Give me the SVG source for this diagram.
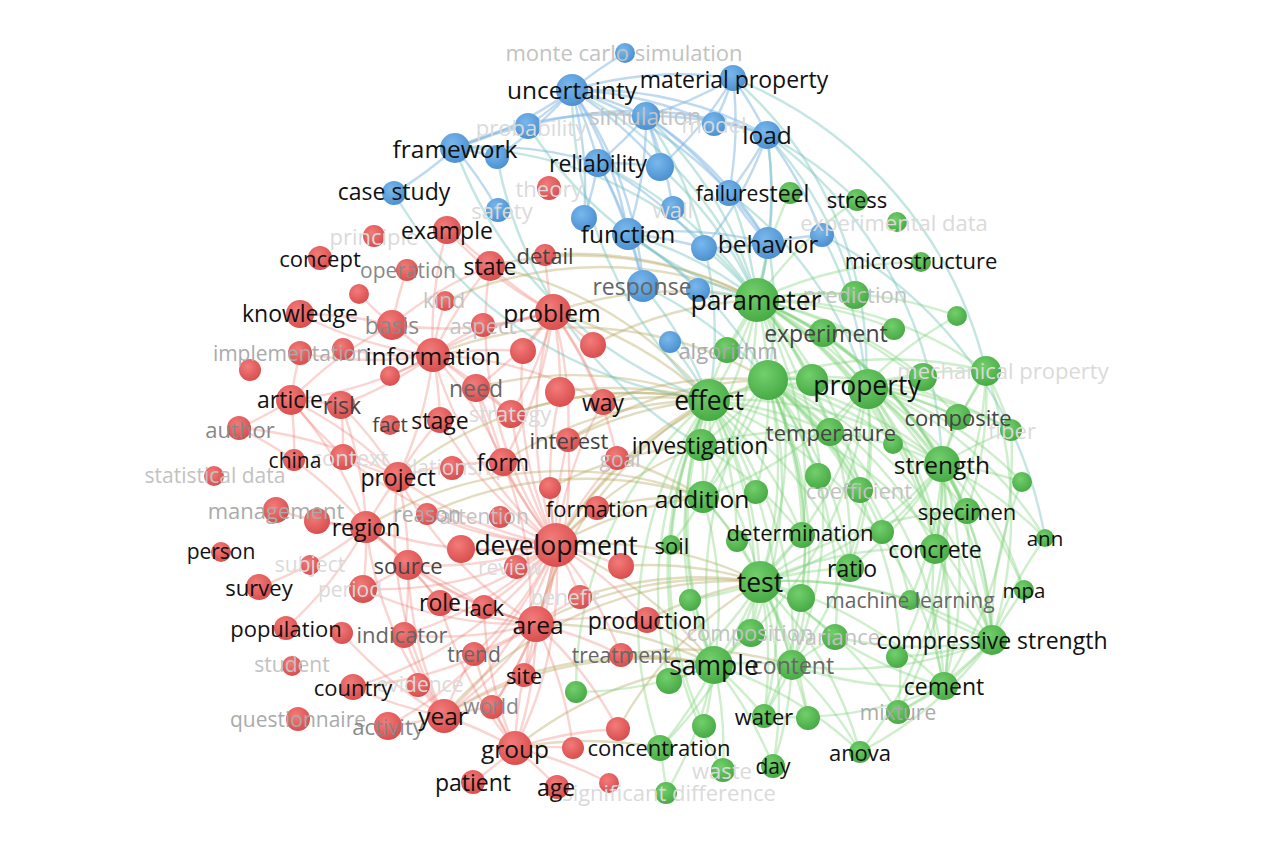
<svg xmlns="http://www.w3.org/2000/svg" width="1282" height="843" viewBox="0 0 1282 843">
<defs>
<radialGradient id="gr" cx="0.4" cy="0.35" r="0.7"><stop offset="0" stop-color="#f27c7a"/><stop offset="1" stop-color="#d84b4b"/></radialGradient>
<radialGradient id="gg" cx="0.4" cy="0.35" r="0.7"><stop offset="0" stop-color="#72cf6c"/><stop offset="1" stop-color="#45a843"/></radialGradient>
<radialGradient id="gb" cx="0.4" cy="0.35" r="0.7"><stop offset="0" stop-color="#79b8ec"/><stop offset="1" stop-color="#4a8ed0"/></radialGradient>
<style>
#connectors path{fill:none;stroke-width:2.4;stroke-linecap:round}
.r path{stroke:#ec7a70;stroke-opacity:.32}
.g path{stroke:#7fd27a;stroke-opacity:.38}
.b path{stroke:#7fb6e2;stroke-opacity:.5}
.t path{stroke:#6fc4bb;stroke-opacity:.42}
.o path{stroke:#b3a55c;stroke-opacity:.38}
.nr{fill:url(#gr)}
.ng{fill:url(#gg)}
.nb{fill:url(#gb)}
text{font-family:"Open Sans","Noto Sans","DejaVu Sans",sans-serif;text-anchor:middle;dominant-baseline:central}
.s20{font-size:20.5px}.s21{font-size:21px}.s22{font-size:22px}.s23{font-size:23px}.s24{font-size:24.5px}.s26{font-size:26.5px}
.k{fill:#111}.c1{fill:#444}.c2{fill:#666}.c3{fill:#888}.c4{fill:#aaa}.c5{fill:#c2c2c2}.c6{fill:#dadada}
</style>
</defs>
<rect width="1282" height="843" fill="#fff"/>
<g id="connectors">
<g class="r">
<path d="M556 545A380 380 0 0 1 536 624"/><path d="M556 545A380 380 0 0 1 366 527"/><path d="M556 545A380 380 0 0 1 408 565"/><path d="M556 545A380 380 0 0 1 398 477"/><path d="M556 545A380 380 0 0 1 503 462"/><path d="M556 545A380 380 0 0 1 433 355"/><path d="M556 545A380 380 0 0 1 476 388"/><path d="M556 545A380 380 0 0 1 553 312"/><path d="M556 545A380 380 0 0 1 444 716"/><path d="M556 545A380 380 0 0 1 515 748"/><path d="M556 545A380 380 0 0 1 484 607"/><path d="M556 545A380 380 0 0 1 440 603"/><path d="M556 545A380 380 0 0 1 461 549"/><path d="M556 545A380 380 0 0 1 516 567"/><path d="M556 545A380 380 0 0 1 597 508"/><path d="M556 545A380 380 0 0 1 550 488"/><path d="M556 545A380 380 0 0 1 500 517"/><path d="M556 545A380 380 0 0 1 427 514"/><path d="M556 545A380 380 0 0 1 580 597"/><path d="M556 545A380 380 0 0 1 647 620"/><path d="M556 545A380 380 0 0 1 621 566"/><path d="M556 545A380 380 0 0 1 568 440"/><path d="M556 545A380 380 0 0 1 603 402"/><path d="M556 545A380 380 0 0 1 440 420"/><path d="M556 545A380 380 0 0 1 511 414"/><path d="M556 545A380 380 0 0 1 524 675"/><path d="M556 545A380 380 0 0 1 474 654"/><path d="M556 545A380 380 0 0 1 404 635"/><path d="M556 545A380 380 0 0 1 363 589"/><path d="M556 545A380 380 0 0 1 353 687"/><path d="M556 545A380 380 0 0 1 621 655"/><path d="M556 545A380 380 0 0 1 560 392"/><path d="M556 545A380 380 0 0 1 523 351"/><path d="M556 545A380 380 0 0 1 617 458"/><path d="M556 545A380 380 0 0 1 490 266"/><path d="M556 545A380 380 0 0 1 291 400"/><path d="M556 545A380 380 0 0 1 388 726"/><path d="M556 545A380 380 0 0 1 492 707"/>
<path d="M536 624A380 380 0 0 1 444 716"/><path d="M536 624A380 380 0 0 1 515 748"/><path d="M536 624A380 380 0 0 1 524 675"/><path d="M536 624A380 380 0 0 1 484 607"/><path d="M536 624A380 380 0 0 1 440 603"/><path d="M536 624A380 380 0 0 1 474 654"/><path d="M536 624A380 380 0 0 1 492 707"/><path d="M536 624A380 380 0 0 1 647 620"/><path d="M536 624A380 380 0 0 1 621 655"/><path d="M536 624A380 380 0 0 1 404 635"/><path d="M536 624A380 380 0 0 1 408 565"/><path d="M536 624A380 380 0 0 1 573 748"/><path d="M536 624A380 380 0 0 1 363 589"/><path d="M536 624A380 380 0 0 1 366 527"/><path d="M536 624A380 380 0 0 1 618 729"/><path d="M536 624A380 380 0 0 1 353 687"/><path d="M536 624A380 380 0 0 1 580 597"/><path d="M536 624A380 380 0 0 1 398 477"/>
<path d="M444 716A380 380 0 0 1 515 748"/><path d="M444 716A380 380 0 0 1 388 726"/><path d="M444 716A380 380 0 0 1 353 687"/><path d="M444 716A380 380 0 0 1 492 707"/><path d="M444 716A380 380 0 0 1 418 685"/><path d="M444 716A380 380 0 0 1 474 654"/><path d="M444 716A380 380 0 0 1 524 675"/><path d="M444 716A380 380 0 0 1 404 635"/><path d="M444 716A380 380 0 0 1 342 633"/><path d="M444 716A380 380 0 0 1 408 565"/><path d="M444 716A380 380 0 0 1 366 527"/><path d="M444 716A380 380 0 0 1 398 477"/>
<path d="M515 748A380 380 0 0 1 473 782"/><path d="M515 748A380 380 0 0 1 557 787"/><path d="M515 748A380 380 0 0 1 573 748"/><path d="M515 748A380 380 0 0 1 524 675"/><path d="M515 748A380 380 0 0 1 492 707"/><path d="M515 748A380 380 0 0 1 618 729"/><path d="M515 748A380 380 0 0 1 609 783"/><path d="M515 748A380 380 0 0 1 474 654"/><path d="M515 748A380 380 0 0 1 484 607"/><path d="M515 748A380 380 0 0 1 440 603"/>
<path d="M433 355A380 380 0 0 1 392 325"/><path d="M433 355A380 380 0 0 1 343 349"/><path d="M433 355A380 380 0 0 1 300 353"/><path d="M433 355A380 380 0 0 1 291 400"/><path d="M433 355A380 380 0 0 1 476 388"/><path d="M433 355A380 380 0 0 1 440 420"/><path d="M433 355A380 380 0 0 1 553 312"/><path d="M433 355A380 380 0 0 1 490 266"/><path d="M433 355A380 380 0 0 1 445 301"/><path d="M433 355A380 380 0 0 1 483 325"/><path d="M433 355A380 380 0 0 1 511 414"/><path d="M433 355A380 380 0 0 1 398 477"/><path d="M433 355A380 380 0 0 1 390 376"/><path d="M433 355A380 380 0 0 1 300 314"/><path d="M433 355A380 380 0 0 1 341 405"/><path d="M433 355A380 380 0 0 1 523 351"/><path d="M433 355A380 380 0 0 1 603 402"/><path d="M433 355A380 380 0 0 1 503 462"/><path d="M433 355A380 380 0 0 1 447 230"/>
<path d="M553 312A380 380 0 0 1 490 266"/><path d="M553 312A380 380 0 0 1 483 325"/><path d="M553 312A380 380 0 0 1 603 402"/><path d="M553 312A380 380 0 0 1 593 345"/><path d="M553 312A380 380 0 0 1 523 351"/><path d="M553 312A380 380 0 0 1 476 388"/><path d="M553 312A380 380 0 0 1 511 414"/><path d="M553 312A380 380 0 0 1 545 255"/><path d="M553 312A380 380 0 0 1 560 392"/><path d="M553 312A380 380 0 0 1 447 230"/><path d="M553 312A380 380 0 0 1 568 440"/><path d="M553 312A380 380 0 0 1 503 462"/><path d="M553 312A380 380 0 0 1 392 325"/><path d="M553 312A380 380 0 0 1 617 458"/>
<path d="M291 400A380 380 0 0 1 239 428"/><path d="M291 400A380 380 0 0 1 300 353"/><path d="M291 400A380 380 0 0 1 341 405"/><path d="M291 400A380 380 0 0 1 366 527"/><path d="M291 400A380 380 0 0 1 294 460"/><path d="M291 400A380 380 0 0 1 398 477"/><path d="M291 400A380 380 0 0 1 392 325"/>
<path d="M366 527A380 380 0 0 1 317 521"/><path d="M366 527A380 380 0 0 1 276 510"/><path d="M366 527A380 380 0 0 1 408 565"/><path d="M366 527A380 380 0 0 1 398 477"/><path d="M366 527A380 380 0 0 1 363 589"/><path d="M366 527A380 380 0 0 1 259 587"/><path d="M366 527A380 380 0 0 1 286 628"/><path d="M366 527A380 380 0 0 1 440 603"/><path d="M239 428A380 380 0 0 1 366 527"/><path d="M239 428A380 380 0 0 1 398 477"/>
<path d="M341 405A380 380 0 0 1 343 457"/><path d="M341 405A380 380 0 0 1 398 477"/><path d="M341 405A380 380 0 0 1 366 527"/><path d="M300 314A380 380 0 0 1 392 325"/><path d="M392 325A380 380 0 0 1 490 266"/><path d="M392 325A380 380 0 0 1 359 294"/><path d="M392 325A380 380 0 0 1 407 270"/><path d="M398 477A380 380 0 0 1 440 420"/><path d="M398 477A380 380 0 0 1 503 462"/><path d="M398 477A380 380 0 0 1 408 565"/><path d="M398 477A380 380 0 0 1 343 457"/><path d="M447 230A380 380 0 0 1 490 266"/><path d="M408 565A380 380 0 0 1 440 603"/><path d="M408 565A380 380 0 0 1 484 607"/><path d="M408 565A380 380 0 0 1 363 589"/><path d="M408 565A380 380 0 0 1 404 635"/><path d="M476 388A380 380 0 0 1 503 462"/><path d="M476 388A380 380 0 0 1 511 414"/><path d="M503 462A380 380 0 0 1 524 675"/><path d="M568 440A380 380 0 0 1 536 624"/>
</g>
<g class="o">
<path d="M553 312A380 380 0 0 1 757 300"/><path d="M553 312A380 380 0 0 1 709 400"/><path d="M490 266A380 380 0 0 1 757 300"/><path d="M545 255A380 380 0 0 1 757 300"/><path d="M603 402A380 380 0 0 1 709 400"/><path d="M603 402A380 380 0 0 1 768 380"/><path d="M568 440A380 380 0 0 1 709 400"/><path d="M617 458A380 380 0 0 1 703 497"/><path d="M556 545A380 380 0 0 1 760 582"/><path d="M556 545A380 380 0 0 1 709 400"/><path d="M556 545A380 380 0 0 1 703 497"/><path d="M556 545A380 380 0 0 1 701 445"/><path d="M556 545A380 380 0 0 1 714 665"/><path d="M536 624A380 380 0 0 1 760 582"/><path d="M536 624A380 380 0 0 1 714 665"/><path d="M647 620A380 380 0 0 1 760 582"/><path d="M647 620A380 380 0 0 1 714 665"/><path d="M621 655A380 380 0 0 1 714 665"/><path d="M621 655A380 380 0 0 1 792 665"/><path d="M515 748A380 380 0 0 1 714 665"/><path d="M515 748A380 380 0 0 1 660 748"/><path d="M618 729A380 380 0 0 1 760 582"/><path d="M524 675A380 380 0 0 1 714 665"/><path d="M597 508A380 380 0 0 1 703 497"/><path d="M593 345A380 380 0 0 1 757 300"/><path d="M433 355A380 380 0 0 1 768 380"/><path d="M476 388A380 380 0 0 1 709 400"/><path d="M511 414A380 380 0 0 1 709 400"/><path d="M398 477A380 380 0 0 1 709 400"/><path d="M427 514A380 380 0 0 1 703 497"/><path d="M444 716A380 380 0 0 1 714 665"/><path d="M621 566A380 380 0 0 1 760 582"/><path d="M580 597A380 380 0 0 1 760 582"/><path d="M560 392A380 380 0 0 1 709 400"/><path d="M503 462A380 380 0 0 1 709 400"/><path d="M536 624A380 380 0 0 1 709 400"/><path d="M550 488A380 380 0 0 1 701 445"/><path d="M490 266A380 380 0 0 1 709 400"/><path d="M445 301A380 380 0 0 1 757 300"/><path d="M556 545A380 380 0 0 1 768 380"/><path d="M568 440A380 380 0 0 1 768 380"/><path d="M366 527A380 380 0 0 1 703 497"/><path d="M444 716A380 380 0 0 1 760 582"/>
</g>
<g class="b">
<path d="M572 90A380 380 0 0 1 528 126"/><path d="M572 90A380 380 0 0 1 455 148"/><path d="M572 90A380 380 0 0 1 646 116"/><path d="M572 90A380 380 0 0 1 733 78"/><path d="M572 90A380 380 0 0 1 660 167"/><path d="M572 90A380 380 0 0 1 598 163"/><path d="M572 90A380 380 0 0 1 714 124"/><path d="M572 90A380 380 0 0 1 767 135"/><path d="M572 90A380 380 0 0 1 628 234"/><path d="M572 90A380 380 0 0 1 643 286"/><path d="M572 90A380 380 0 0 1 768 243"/><path d="M572 90A380 380 0 0 1 584 218"/><path d="M572 90A380 380 0 0 1 625 53"/><path d="M572 90A380 380 0 0 1 497 157"/>
<path d="M733 78A380 380 0 0 1 646 116"/><path d="M733 78A380 380 0 0 1 767 135"/><path d="M733 78A380 380 0 0 1 714 124"/><path d="M733 78A380 380 0 0 1 729 193"/><path d="M733 78A380 380 0 0 1 660 167"/>
<path d="M455 148A380 380 0 0 1 497 157"/><path d="M455 148A380 380 0 0 1 528 126"/><path d="M455 148A380 380 0 0 1 598 163"/><path d="M455 148A380 380 0 0 1 646 116"/><path d="M455 148A380 380 0 0 1 394 193"/><path d="M455 148A380 380 0 0 1 498 210"/>
<path d="M646 116A380 380 0 0 1 767 135"/><path d="M646 116A380 380 0 0 1 660 167"/><path d="M646 116A380 380 0 0 1 598 163"/><path d="M646 116A380 380 0 0 1 729 193"/><path d="M646 116A380 380 0 0 1 768 243"/><path d="M646 116A380 380 0 0 1 628 234"/><path d="M646 116A380 380 0 0 1 673 208"/>
<path d="M767 135A380 380 0 0 1 729 193"/><path d="M767 135A380 380 0 0 1 768 243"/><path d="M767 135A380 380 0 0 1 704 248"/><path d="M767 135A380 380 0 0 1 822 235"/><path d="M528 126A380 380 0 0 1 767 135"/>
<path d="M598 163A380 380 0 0 1 628 234"/><path d="M598 163A380 380 0 0 1 660 167"/><path d="M598 163A380 380 0 0 1 584 218"/><path d="M598 163A380 380 0 0 1 643 286"/><path d="M598 163A380 380 0 0 1 704 248"/>
<path d="M628 234A380 380 0 0 1 704 248"/><path d="M628 234A380 380 0 0 1 768 243"/><path d="M628 234A380 380 0 0 1 643 286"/><path d="M628 234A380 380 0 0 1 698 290"/><path d="M768 243A380 380 0 0 1 822 235"/><path d="M768 243A380 380 0 0 1 704 248"/><path d="M768 243A380 380 0 0 1 729 193"/>
</g>
<g class="t">
<path d="M455 148A380 380 0 0 1 757 300"/><path d="M455 148A420 420 0 0 0 709 400"/><path d="M572 90A420 420 0 0 0 709 400"/><path d="M572 90A380 380 0 0 1 757 300"/><path d="M767 135A380 380 0 0 1 757 300"/><path d="M646 116A380 380 0 0 1 757 300"/><path d="M768 243A380 380 0 0 1 757 300"/><path d="M729 193A380 380 0 0 1 757 300"/><path d="M660 167A380 380 0 0 1 757 300"/><path d="M628 234A380 380 0 0 1 757 300"/><path d="M643 286A380 380 0 0 1 709 400"/><path d="M598 163A380 380 0 0 1 757 300"/><path d="M733 78A380 380 0 0 1 866 385"/><path d="M767 135A380 380 0 0 1 855 295"/><path d="M822 235A380 380 0 0 1 866 385"/><path d="M767 135A380 380 0 0 1 857 200"/><path d="M768 243A380 380 0 0 1 768 380"/><path d="M628 234A380 380 0 0 1 768 380"/><path d="M646 116A380 380 0 0 1 709 400"/><path d="M733 78A420 420 0 0 1 986 371"/><path d="M767 135A420 420 0 0 1 942 464"/><path d="M670 342A380 380 0 0 1 709 400"/><path d="M643 286A380 380 0 0 1 768 380"/><path d="M698 290A380 380 0 0 1 757 300"/><path d="M394 193A420 420 0 0 0 709 400"/><path d="M704 248A380 380 0 0 1 757 300"/><path d="M497 157A420 420 0 0 0 701 445"/><path d="M528 126A420 420 0 0 0 757 300"/><path d="M729 193A380 380 0 0 1 866 385"/><path d="M822 235A420 420 0 0 1 1045 538"/>
</g>
<g class="g">
<path d="M757 300A380 380 0 0 1 866 385"/><path d="M757 300A380 380 0 0 1 709 400"/><path d="M757 300A380 380 0 0 1 768 380"/><path d="M757 300A380 380 0 0 1 812 380"/><path d="M757 300A380 380 0 0 1 823 333"/><path d="M757 300A380 380 0 0 1 727 350"/><path d="M757 300A380 380 0 0 1 855 295"/><path d="M757 300A380 380 0 0 1 701 445"/><path d="M757 300A380 380 0 0 1 830 432"/><path d="M757 300A380 380 0 0 1 942 464"/><path d="M757 300A380 380 0 0 1 760 582"/><path d="M757 300A380 380 0 0 0 714 665"/><path d="M757 300A380 380 0 0 1 703 497"/><path d="M757 300A380 380 0 0 1 986 371"/><path d="M757 300A380 380 0 0 1 958 417"/><path d="M757 300A380 380 0 0 1 893 444"/><path d="M757 300A380 380 0 0 1 967 511"/><path d="M757 300A380 380 0 0 1 935 549"/><path d="M757 300A380 380 0 0 1 992 640"/><path d="M757 300A380 380 0 0 1 802 535"/><path d="M757 300A380 380 0 0 1 850 568"/><path d="M757 300A380 380 0 0 1 957 316"/><path d="M757 300A380 380 0 0 1 921 262"/><path d="M757 300A380 380 0 0 1 857 200"/><path d="M757 300A380 380 0 0 1 790 193"/><path d="M757 300A380 380 0 0 1 894 329"/><path d="M757 300A380 380 0 0 1 923 377"/><path d="M757 300A380 380 0 0 1 860 490"/><path d="M757 300A380 380 0 0 1 792 665"/><path d="M757 300A380 380 0 0 1 944 686"/>
<path d="M768 380A380 380 0 0 1 866 385"/><path d="M768 380A380 380 0 0 1 709 400"/><path d="M768 380A380 380 0 0 1 942 464"/><path d="M768 380A380 380 0 0 1 760 582"/><path d="M768 380A380 380 0 0 0 714 665"/><path d="M768 380A380 380 0 0 1 703 497"/><path d="M768 380A380 380 0 0 1 992 640"/><path d="M768 380A380 380 0 0 1 944 686"/><path d="M768 380A380 380 0 0 1 967 511"/><path d="M768 380A380 380 0 0 1 935 549"/><path d="M768 380A380 380 0 0 1 986 371"/><path d="M768 380A380 380 0 0 1 958 417"/><path d="M768 380A380 380 0 0 1 830 432"/><path d="M768 380A380 380 0 0 1 701 445"/><path d="M768 380A380 380 0 0 1 802 535"/><path d="M768 380A380 380 0 0 1 818 476"/><path d="M768 380A380 380 0 0 1 860 490"/><path d="M768 380A380 380 0 0 1 756 492"/><path d="M768 380A380 380 0 0 1 850 568"/><path d="M768 380A380 380 0 0 1 792 665"/><path d="M768 380A380 380 0 0 1 751 633"/><path d="M768 380A380 380 0 0 1 764 716"/><path d="M768 380A380 380 0 0 1 910 600"/><path d="M768 380A380 380 0 0 1 801 598"/><path d="M768 380A380 380 0 0 1 882 532"/><path d="M768 380A380 380 0 0 1 835 637"/><path d="M768 380A380 380 0 0 1 898 712"/><path d="M768 380A380 380 0 0 1 1011 430"/>
<path d="M866 385A380 380 0 0 1 942 464"/><path d="M866 385A380 380 0 0 1 986 371"/><path d="M866 385A380 380 0 0 1 958 417"/><path d="M866 385A380 380 0 0 1 1011 430"/><path d="M866 385A380 380 0 0 1 967 511"/><path d="M866 385A380 380 0 0 1 935 549"/><path d="M866 385A380 380 0 0 1 992 640"/><path d="M866 385A380 380 0 0 1 760 582"/><path d="M866 385A380 380 0 0 1 830 432"/><path d="M866 385A380 380 0 0 1 893 444"/><path d="M866 385A380 380 0 0 1 957 316"/><path d="M866 385A380 380 0 0 1 823 333"/><path d="M866 385A380 380 0 0 1 850 568"/><path d="M866 385A380 380 0 0 1 944 686"/><path d="M866 385A380 380 0 0 1 923 377"/><path d="M866 385A380 380 0 0 1 1022 482"/><path d="M866 385A380 380 0 0 1 1045 538"/><path d="M866 385A380 380 0 0 1 1024 590"/><path d="M866 385A380 380 0 0 1 714 665"/><path d="M866 385A380 380 0 0 1 792 665"/><path d="M866 385A380 380 0 0 1 703 497"/>
<path d="M709 400A380 380 0 0 1 760 582"/><path d="M709 400A380 380 0 0 0 714 665"/><path d="M709 400A380 380 0 0 1 703 497"/><path d="M709 400A380 380 0 0 1 701 445"/><path d="M709 400A380 380 0 0 1 830 432"/><path d="M709 400A380 380 0 0 1 942 464"/><path d="M709 400A380 380 0 0 1 866 385"/><path d="M709 400A380 380 0 0 1 792 665"/><path d="M709 400A380 380 0 0 0 660 748"/><path d="M709 400A380 380 0 0 0 690 600"/><path d="M709 400A380 380 0 0 0 671 545"/><path d="M709 400A380 380 0 0 1 737 541"/><path d="M709 400A380 380 0 0 1 751 633"/><path d="M709 400A380 380 0 0 1 764 716"/><path d="M709 400A380 380 0 0 1 802 535"/><path d="M709 400A380 380 0 0 1 992 640"/><path d="M709 400A380 380 0 0 1 944 686"/><path d="M709 400A380 380 0 0 1 850 568"/><path d="M709 400A380 380 0 0 0 669 681"/><path d="M709 400A380 380 0 0 0 576 692"/><path d="M709 400A380 380 0 0 0 704 726"/><path d="M709 400A380 380 0 0 0 723 770"/>
<path d="M942 464A380 380 0 0 1 967 511"/><path d="M942 464A380 380 0 0 1 992 640"/><path d="M942 464A380 380 0 0 1 944 686"/><path d="M942 464A380 380 0 0 1 935 549"/><path d="M942 464A380 380 0 0 1 986 371"/><path d="M942 464A380 380 0 0 1 958 417"/><path d="M942 464A380 380 0 0 1 1045 538"/><path d="M942 464A380 380 0 0 1 1022 482"/><path d="M942 464A380 380 0 0 1 1024 590"/><path d="M942 464A380 380 0 0 1 850 568"/><path d="M942 464A380 380 0 0 1 898 712"/><path d="M942 464A380 380 0 0 1 760 582"/><path d="M942 464A380 380 0 0 1 860 752"/><path d="M942 464A380 380 0 0 1 897 657"/><path d="M942 464A380 380 0 0 1 1011 430"/><path d="M942 464A380 380 0 0 1 910 600"/><path d="M942 464A380 380 0 0 1 882 532"/>
<path d="M760 582A380 380 0 0 1 714 665"/><path d="M760 582A380 380 0 0 1 751 633"/><path d="M760 582A380 380 0 0 1 792 665"/><path d="M760 582A380 380 0 0 1 801 598"/><path d="M760 582A380 380 0 0 1 850 568"/><path d="M760 582A380 380 0 0 1 992 640"/><path d="M760 582A380 380 0 0 1 944 686"/><path d="M760 582A380 380 0 0 1 935 549"/><path d="M760 582A380 380 0 0 1 802 535"/><path d="M760 582A380 380 0 0 1 764 716"/><path d="M760 582A380 380 0 0 1 860 752"/><path d="M760 582A380 380 0 0 1 808 718"/><path d="M760 582A380 380 0 0 1 898 712"/><path d="M760 582A380 380 0 0 1 910 600"/><path d="M760 582A380 380 0 0 1 835 637"/><path d="M760 582A380 380 0 0 1 773 766"/><path d="M760 582A380 380 0 0 1 660 748"/><path d="M760 582A380 380 0 0 1 967 511"/><path d="M760 582A380 380 0 0 1 690 600"/><path d="M760 582A380 380 0 0 1 669 681"/>
<path d="M714 665A380 380 0 0 1 792 665"/><path d="M714 665A380 380 0 0 1 751 633"/><path d="M714 665A380 380 0 0 1 764 716"/><path d="M714 665A380 380 0 0 1 660 748"/><path d="M714 665A380 380 0 0 1 669 681"/><path d="M714 665A380 380 0 0 1 704 726"/><path d="M714 665A380 380 0 0 1 723 770"/><path d="M714 665A380 380 0 0 1 666 793"/><path d="M714 665A380 380 0 0 1 773 766"/><path d="M714 665A380 380 0 0 1 690 600"/><path d="M714 665A380 380 0 0 1 576 692"/><path d="M714 665A380 380 0 0 1 860 752"/>
<path d="M992 640A380 380 0 0 1 944 686"/><path d="M992 640A380 380 0 0 1 935 549"/><path d="M992 640A380 380 0 0 1 967 511"/><path d="M992 640A380 380 0 0 1 1024 590"/><path d="M992 640A380 380 0 0 1 910 600"/><path d="M992 640A380 380 0 0 1 897 657"/><path d="M992 640A380 380 0 0 1 898 712"/><path d="M992 640A380 380 0 0 1 860 752"/><path d="M992 640A380 380 0 0 1 1045 538"/><path d="M992 640A380 380 0 0 1 835 637"/><path d="M992 640A380 380 0 0 1 1022 482"/><path d="M992 640A380 380 0 0 1 792 665"/>
<path d="M944 686A380 380 0 0 1 935 549"/><path d="M944 686A380 380 0 0 1 898 712"/><path d="M944 686A380 380 0 0 1 764 716"/><path d="M944 686A380 380 0 0 1 835 637"/><path d="M944 686A380 380 0 0 1 792 665"/><path d="M792 665A380 380 0 0 1 764 716"/><path d="M792 665A380 380 0 0 1 860 752"/><path d="M792 665A380 380 0 0 1 773 766"/><path d="M792 665A380 380 0 0 1 835 637"/><path d="M792 665A380 380 0 0 1 808 718"/><path d="M701 445A380 380 0 0 1 703 497"/><path d="M701 445A380 380 0 0 1 830 432"/><path d="M701 445A380 380 0 0 1 760 582"/><path d="M701 445A380 380 0 0 1 802 535"/><path d="M703 497A380 380 0 0 1 760 582"/><path d="M703 497A380 380 0 0 1 714 665"/><path d="M703 497A380 380 0 0 1 792 665"/><path d="M703 497A380 380 0 0 1 671 545"/><path d="M660 748A380 380 0 0 1 666 793"/><path d="M986 371A380 380 0 0 1 958 417"/><path d="M986 371A380 380 0 0 1 967 511"/><path d="M986 371A380 380 0 0 1 1011 430"/><path d="M986 371A380 380 0 0 1 935 549"/><path d="M986 371A420 420 0 0 1 992 640"/><path d="M1011 430A420 420 0 0 1 944 686"/><path d="M830 432A380 380 0 0 1 942 464"/><path d="M823 333A380 380 0 0 1 942 464"/>
</g>
</g>
<g id="nodes">
<g id="n-b497"><circle cx="497" cy="157" r="12" class="nb"/></g>
<g id="n-b660"><circle cx="660" cy="167" r="14" class="nb"/></g>
<g id="n-b584"><circle cx="584" cy="218" r="13" class="nb"/></g>
<g id="n-b704"><circle cx="704" cy="248" r="13" class="nb"/></g>
<g id="n-b822"><circle cx="822" cy="235" r="12" class="nb"/></g>
<g id="n-b698"><circle cx="698" cy="290" r="12" class="nb"/></g>
<g id="n-b670"><circle cx="670" cy="342" r="11" class="nb"/></g>
<g id="n-g957"><circle cx="957" cy="316" r="10" class="ng"/></g>
<g id="n-g894"><circle cx="894" cy="329" r="11" class="ng"/></g>
<g id="n-g768"><circle cx="768" cy="380" r="20" class="ng"/></g>
<g id="n-g812"><circle cx="812" cy="380" r="16" class="ng"/></g>
<g id="n-g923"><circle cx="923" cy="377" r="14" class="ng"/></g>
<g id="n-g893"><circle cx="893" cy="444" r="10" class="ng"/></g>
<g id="n-g1022"><circle cx="1022" cy="482" r="10" class="ng"/></g>
<g id="n-g818"><circle cx="818" cy="476" r="13" class="ng"/></g>
<g id="n-g756"><circle cx="756" cy="492" r="12" class="ng"/></g>
<g id="n-g737"><circle cx="737" cy="541" r="11" class="ng"/></g>
<g id="n-g882"><circle cx="882" cy="532" r="12" class="ng"/></g>
<g id="n-g801"><circle cx="801" cy="598" r="14" class="ng"/></g>
<g id="n-g690"><circle cx="690" cy="600" r="11" class="ng"/></g>
<g id="n-g897"><circle cx="897" cy="657" r="11" class="ng"/></g>
<g id="n-g669"><circle cx="669" cy="681" r="13" class="ng"/></g>
<g id="n-g576"><circle cx="576" cy="692" r="11" class="ng"/></g>
<g id="n-g808"><circle cx="808" cy="718" r="12" class="ng"/></g>
<g id="n-g704"><circle cx="704" cy="726" r="12" class="ng"/></g>
<g id="n-r359"><circle cx="359" cy="294" r="10" class="nr"/></g>
<g id="n-r593"><circle cx="593" cy="345" r="13" class="nr"/></g>
<g id="n-r523"><circle cx="523" cy="351" r="13" class="nr"/></g>
<g id="n-r343"><circle cx="343" cy="349" r="11" class="nr"/></g>
<g id="n-r250"><circle cx="250" cy="370" r="11" class="nr"/></g>
<g id="n-r390"><circle cx="390" cy="376" r="10" class="nr"/></g>
<g id="n-r560"><circle cx="560" cy="392" r="15" class="nr"/></g>
<g id="n-r550"><circle cx="550" cy="488" r="11" class="nr"/></g>
<g id="n-r317"><circle cx="317" cy="521" r="13" class="nr"/></g>
<g id="n-r461"><circle cx="461" cy="549" r="14" class="nr"/></g>
<g id="n-r621"><circle cx="621" cy="566" r="13" class="nr"/></g>
<g id="n-r342"><circle cx="342" cy="633" r="11" class="nr"/></g>
<g id="n-r618"><circle cx="618" cy="729" r="12" class="nr"/></g>
<g id="n-r573"><circle cx="573" cy="748" r="11" class="nr"/></g>
<g id="n-r609"><circle cx="609" cy="783" r="10" class="nr"/></g>
<g id="n-monte-carlo-simulation"><circle cx="625" cy="53" r="10" class="nb"/><text x="624" y="52" class="s22 c5">monte carlo simulation</text></g>
<g id="n-probability"><circle cx="528" cy="126" r="13" class="nb"/><text x="531" y="127" class="s22 c6">probability</text></g>
<g id="n-simulation"><circle cx="646" cy="116" r="14" class="nb"/><text x="645" y="116" class="s23 c5">simulation</text></g>
<g id="n-model"><circle cx="714" cy="124" r="12" class="nb"/><text x="714" y="124" class="s22 c6">model</text></g>
<g id="n-safety"><circle cx="498" cy="210" r="12" class="nb"/><text x="502" y="210" class="s22 c6">safety</text></g>
<g id="n-wall"><circle cx="673" cy="208" r="12" class="nb"/><text x="673" y="209" class="s22 c6">wall</text></g>
<g id="n-experimental-data"><circle cx="897" cy="222" r="10" class="ng"/><text x="894" y="222" class="s22 c6">experimental data</text></g>
<g id="n-prediction"><circle cx="855" cy="295" r="14" class="ng"/><text x="855" y="294" class="s22 c5">prediction</text></g>
<g id="n-mechanical-property"><circle cx="986" cy="371" r="15" class="ng"/><text x="1003" y="370" class="s22 c6">mechanical property</text></g>
<g id="n-fiber"><circle cx="1011" cy="430" r="11" class="ng"/><text x="1012" y="430" class="s22 c6">fiber</text></g>
<g id="n-coefficient"><circle cx="860" cy="490" r="13" class="ng"/><text x="859" y="490" class="s22 c5">coefficient</text></g>
<g id="n-composition"><circle cx="751" cy="633" r="14" class="ng"/><text x="750" y="632" class="s22 c5">composition</text></g>
<g id="n-variance"><circle cx="835" cy="637" r="13" class="ng"/><text x="837" y="636" class="s22 c5">variance</text></g>
<g id="n-mixture"><circle cx="898" cy="712" r="12" class="ng"/><text x="898" y="712" class="s21 c4">mixture</text></g>
<g id="n-waste"><circle cx="723" cy="770" r="12" class="ng"/><text x="722" y="770" class="s22 c6">waste</text></g>
<g id="n-significant-difference"><circle cx="666" cy="793" r="11" class="ng"/><text x="669" y="792" class="s22 c6">significant difference</text></g>
<g id="n-algorithm"><circle cx="727" cy="350" r="13" class="ng"/><text x="728" y="350" class="s22 c4">algorithm</text></g>
<g id="n-theory"><circle cx="549" cy="188" r="12" class="nr"/><text x="549" y="188" class="s22 c6">theory</text></g>
<g id="n-principle"><circle cx="374" cy="236" r="11" class="nr"/><text x="374" y="236" class="s22 c6">principle</text></g>
<g id="n-kind"><circle cx="445" cy="301" r="10" class="nr"/><text x="444" y="300" class="s21 c5">kind</text></g>
<g id="n-aspect"><circle cx="483" cy="325" r="12" class="nr"/><text x="483" y="325" class="s22 c5">aspect</text></g>
<g id="n-strategy"><circle cx="511" cy="414" r="14" class="nr"/><text x="510" y="413" class="s22 c6">strategy</text></g>
<g id="n-context"><circle cx="343" cy="457" r="13" class="nr"/><text x="350" y="457" class="s22 c6">context</text></g>
<g id="n-goal"><circle cx="617" cy="458" r="12" class="nr"/><text x="620" y="459" class="s21 c5">goal</text></g>
<g id="n-relationship"><circle cx="452" cy="468" r="12" class="nr"/><text x="450" y="467" class="s21 c6">relationship</text></g>
<g id="n-statistical-data"><circle cx="214" cy="476" r="10" class="nr"/><text x="215" y="475" class="s21 c5">statistical data</text></g>
<g id="n-attention"><circle cx="500" cy="517" r="11" class="nr"/><text x="484" y="516" class="s21 c5">attention</text></g>
<g id="n-subject"><circle cx="310" cy="565" r="10" class="nr"/><text x="310" y="564" class="s21 c6">subject</text></g>
<g id="n-review"><circle cx="516" cy="567" r="12" class="nr"/><text x="510" y="567" class="s21 c6">review</text></g>
<g id="n-period"><circle cx="363" cy="589" r="14" class="nr"/><text x="350" y="589" class="s21 c6">period</text></g>
<g id="n-benefit"><circle cx="580" cy="597" r="12" class="nr"/><text x="565" y="597" class="s21 c6">benefit</text></g>
<g id="n-student"><circle cx="292" cy="666" r="10" class="nr"/><text x="292" y="664" class="s21 c5">student</text></g>
<g id="n-evidence"><circle cx="418" cy="685" r="12" class="nr"/><text x="420" y="684" class="s21 c6">evidence</text></g>
<g id="n-questionnaire"><circle cx="298" cy="719" r="12" class="nr"/><text x="298" y="719" class="s21 c4">questionnaire</text></g>
<g id="n-implementation"><circle cx="300" cy="353" r="12" class="nr"/><text x="291" y="353" class="s21 c4">implementation</text></g>
<g id="n-management"><circle cx="276" cy="510" r="13" class="nr"/><text x="276" y="510" class="s22 c4">management</text></g>
<g id="n-reason"><circle cx="427" cy="514" r="11" class="nr"/><text x="427" y="514" class="s21 c4">reason</text></g>
<g id="n-operation"><circle cx="407" cy="270" r="11" class="nr"/><text x="408" y="270" class="s21 c3">operation</text></g>
<g id="n-basis"><circle cx="392" cy="325" r="15" class="nr"/><text x="392" y="325" class="s23 c3">basis</text></g>
<g id="n-author"><circle cx="239" cy="428" r="12" class="nr"/><text x="240" y="429" class="s22 c3">author</text></g>
<g id="n-world"><circle cx="492" cy="707" r="12" class="nr"/><text x="491" y="706" class="s21 c3">world</text></g>
<g id="n-activity"><circle cx="388" cy="726" r="14" class="nr"/><text x="388" y="726" class="s22 c3">activity</text></g>
<g id="n-need"><circle cx="476" cy="388" r="14" class="nr"/><text x="476" y="388" class="s23 c2">need</text></g>
<g id="n-indicator"><circle cx="404" cy="635" r="13" class="nr"/><text x="402" y="634" class="s22 c2">indicator</text></g>
<g id="n-trend"><circle cx="474" cy="654" r="12" class="nr"/><text x="474" y="654" class="s21 c2">trend</text></g>
<g id="n-treatment"><circle cx="621" cy="655" r="12" class="nr"/><text x="621" y="655" class="s21 c2">treatment</text></g>
<g id="n-response"><circle cx="643" cy="286" r="16" class="nb"/><text x="642" y="286" class="s23 c2">response</text></g>
<g id="n-machine-learning"><circle cx="910" cy="600" r="10" class="ng"/><text x="910" y="600" class="s21 c2">machine learning</text></g>
<g id="n-content"><circle cx="792" cy="665" r="15" class="ng"/><text x="793" y="665" class="s23 c2">content</text></g>
<g id="n-experiment"><circle cx="823" cy="333" r="14" class="ng"/><text x="826" y="333" class="s23 c1">experiment</text></g>
<g id="n-temperature"><circle cx="830" cy="432" r="14" class="ng"/><text x="831" y="432" class="s22 c1">temperature</text></g>
<g id="n-composite"><circle cx="958" cy="417" r="13" class="ng"/><text x="958" y="417" class="s22 c1">composite</text></g>
<g id="n-detail"><circle cx="545" cy="255" r="11" class="nr"/><text x="545" y="255" class="s22 c1">detail</text></g>
<g id="n-risk"><circle cx="341" cy="405" r="14" class="nr"/><text x="342" y="405" class="s23 c1">risk</text></g>
<g id="n-fact"><circle cx="390" cy="425" r="10" class="nr"/><text x="390" y="424" class="s20 c1">fact</text></g>
<g id="n-interest"><circle cx="568" cy="440" r="12" class="nr"/><text x="569" y="440" class="s22 c1">interest</text></g>
<g id="n-source"><circle cx="408" cy="565" r="15" class="nr"/><text x="408" y="565" class="s22 c1">source</text></g>
<g id="n-uncertainty"><circle cx="572" cy="90" r="16" class="nb"/><text x="572" y="89" class="s24 k">uncertainty</text></g>
<g id="n-material-property"><circle cx="733" cy="78" r="13" class="nb"/><text x="734" y="79" class="s23 k">material property</text></g>
<g id="n-load"><circle cx="767" cy="135" r="14" class="nb"/><text x="767" y="134" class="s24 k">load</text></g>
<g id="n-framework"><circle cx="455" cy="148" r="15" class="nb"/><text x="455" y="148" class="s24 k">framework</text></g>
<g id="n-reliability"><circle cx="598" cy="163" r="14" class="nb"/><text x="598" y="163" class="s23 k">reliability</text></g>
<g id="n-case-study"><circle cx="394" cy="193" r="12" class="nb"/><text x="394" y="191" class="s23 k">case study</text></g>
<g id="n-failure"><circle cx="729" cy="193" r="13" class="nb"/><text x="727" y="193" class="s21 k">failure</text></g>
<g id="n-function"><circle cx="628" cy="234" r="16" class="nb"/><text x="628" y="233" class="s24 k">function</text></g>
<g id="n-behavior"><circle cx="768" cy="243" r="16" class="nb"/><text x="768" y="243" class="s24 k">behavior</text></g>
<g id="n-steel"><circle cx="790" cy="193" r="11" class="ng"/><text x="784" y="193" class="s23 k">steel</text></g>
<g id="n-stress"><circle cx="857" cy="200" r="11" class="ng"/><text x="857" y="199" class="s22 k">stress</text></g>
<g id="n-microstructure"><circle cx="921" cy="262" r="10" class="ng"/><text x="921" y="260" class="s22 k">microstructure</text></g>
<g id="n-parameter"><circle cx="757" cy="300" r="22" class="ng"/><text x="756" y="300" class="s26 k">parameter</text></g>
<g id="n-property"><circle cx="868" cy="389" r="20" class="ng"/><text x="867" y="385" class="s26 k">property</text></g>
<g id="n-effect"><circle cx="709" cy="400" r="21" class="ng"/><text x="709" y="400" class="s26 k">effect</text></g>
<g id="n-investigation"><circle cx="701" cy="445" r="16" class="ng"/><text x="700" y="445" class="s23 k">investigation</text></g>
<g id="n-strength"><circle cx="942" cy="464" r="18" class="ng"/><text x="942" y="464" class="s24 k">strength</text></g>
<g id="n-addition"><circle cx="703" cy="497" r="16" class="ng"/><text x="702" y="498" class="s24 k">addition</text></g>
<g id="n-determination"><circle cx="802" cy="535" r="13" class="ng"/><text x="800" y="532" class="s22 k">determination</text></g>
<g id="n-specimen"><circle cx="967" cy="511" r="13" class="ng"/><text x="967" y="511" class="s22 k">specimen</text></g>
<g id="n-ann"><circle cx="1045" cy="538" r="9" class="ng"/><text x="1045" y="538" class="s20 k">ann</text></g>
<g id="n-concrete"><circle cx="935" cy="549" r="15" class="ng"/><text x="935" y="549" class="s23 k">concrete</text></g>
<g id="n-soil"><circle cx="671" cy="545" r="10" class="ng"/><text x="672" y="545" class="s22 k">soil</text></g>
<g id="n-ratio"><circle cx="850" cy="568" r="14" class="ng"/><text x="852" y="568" class="s23 k">ratio</text></g>
<g id="n-test"><circle cx="760" cy="582" r="21" class="ng"/><text x="760" y="582" class="s26 k">test</text></g>
<g id="n-mpa"><circle cx="1024" cy="590" r="10" class="ng"/><text x="1024" y="590" class="s20 k">mpa</text></g>
<g id="n-compressive-strength"><circle cx="992" cy="640" r="15" class="ng"/><text x="992" y="640" class="s23 k">compressive strength</text></g>
<g id="n-sample"><circle cx="714" cy="665" r="19" class="ng"/><text x="714" y="665" class="s26 k">sample</text></g>
<g id="n-cement"><circle cx="944" cy="686" r="14" class="ng"/><text x="944" y="686" class="s23 k">cement</text></g>
<g id="n-water"><circle cx="764" cy="716" r="12" class="ng"/><text x="764" y="716" class="s22 k">water</text></g>
<g id="n-concentration"><circle cx="660" cy="748" r="13" class="ng"/><text x="659" y="747" class="s22 k">concentration</text></g>
<g id="n-anova"><circle cx="860" cy="752" r="11" class="ng"/><text x="860" y="752" class="s22 k">anova</text></g>
<g id="n-day"><circle cx="773" cy="766" r="12" class="ng"/><text x="773" y="766" class="s21 k">day</text></g>
<g id="n-example"><circle cx="447" cy="230" r="14" class="nr"/><text x="447" y="230" class="s23 k">example</text></g>
<g id="n-concept"><circle cx="320" cy="258" r="12" class="nr"/><text x="320" y="258" class="s22 k">concept</text></g>
<g id="n-state"><circle cx="490" cy="266" r="15" class="nr"/><text x="490" y="266" class="s23 k">state</text></g>
<g id="n-problem"><circle cx="553" cy="312" r="18" class="nr"/><text x="552" y="312" class="s24 k">problem</text></g>
<g id="n-knowledge"><circle cx="300" cy="314" r="14" class="nr"/><text x="300" y="313" class="s23 k">knowledge</text></g>
<g id="n-information"><circle cx="433" cy="355" r="17" class="nr"/><text x="433" y="355" class="s24 k">information</text></g>
<g id="n-way"><circle cx="603" cy="402" r="13" class="nr"/><text x="603" y="402" class="s23 k">way</text></g>
<g id="n-article"><circle cx="291" cy="400" r="15" class="nr"/><text x="290" y="399" class="s23 k">article</text></g>
<g id="n-stage"><circle cx="440" cy="420" r="13" class="nr"/><text x="440" y="420" class="s23 k">stage</text></g>
<g id="n-china"><circle cx="294" cy="460" r="11" class="nr"/><text x="295" y="460" class="s21 k">china</text></g>
<g id="n-form"><circle cx="503" cy="462" r="14" class="nr"/><text x="503" y="462" class="s23 k">form</text></g>
<g id="n-project"><circle cx="398" cy="477" r="15" class="nr"/><text x="398" y="477" class="s23 k">project</text></g>
<g id="n-region"><circle cx="366" cy="527" r="16" class="nr"/><text x="366" y="527" class="s23 k">region</text></g>
<g id="n-formation"><circle cx="597" cy="508" r="12" class="nr"/><text x="597" y="508" class="s22 k">formation</text></g>
<g id="n-development"><circle cx="556" cy="545" r="22" class="nr"/><text x="556" y="545" class="s26 k">development</text></g>
<g id="n-person"><circle cx="221" cy="552" r="10" class="nr"/><text x="221" y="551" class="s21 k">person</text></g>
<g id="n-survey"><circle cx="259" cy="587" r="13" class="nr"/><text x="259" y="587" class="s22 k">survey</text></g>
<g id="n-role"><circle cx="440" cy="603" r="13" class="nr"/><text x="440" y="602" class="s23 k">role</text></g>
<g id="n-lack"><circle cx="484" cy="607" r="12" class="nr"/><text x="484" y="607" class="s22 k">lack</text></g>
<g id="n-area"><circle cx="536" cy="624" r="18" class="nr"/><text x="538" y="624" class="s24 k">area</text></g>
<g id="n-production"><circle cx="647" cy="620" r="13" class="nr"/><text x="647" y="620" class="s23 k">production</text></g>
<g id="n-population"><circle cx="286" cy="628" r="12" class="nr"/><text x="286" y="628" class="s22 k">population</text></g>
<g id="n-site"><circle cx="524" cy="675" r="12" class="nr"/><text x="524" y="675" class="s22 k">site</text></g>
<g id="n-country"><circle cx="353" cy="687" r="13" class="nr"/><text x="353" y="687" class="s22 k">country</text></g>
<g id="n-year"><circle cx="444" cy="716" r="17" class="nr"/><text x="443" y="715" class="s24 k">year</text></g>
<g id="n-group"><circle cx="515" cy="748" r="17" class="nr"/><text x="515" y="748" class="s24 k">group</text></g>
<g id="n-patient"><circle cx="473" cy="782" r="12" class="nr"/><text x="473" y="782" class="s23 k">patient</text></g>
<g id="n-age"><circle cx="557" cy="787" r="12" class="nr"/><text x="556" y="787" class="s23 k">age</text></g>
</g>
</svg>
